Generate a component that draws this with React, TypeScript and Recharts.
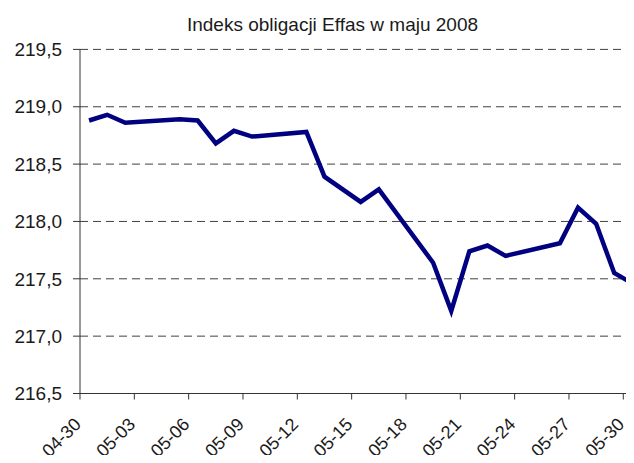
import { CartesianGrid, Line, LineChart, XAxis, YAxis } from "recharts";

// notowania indeksu (dni robocze)
const dates = ["04-30", "05-01", "05-02", "05-05", "05-06", "05-07", "05-08", "05-09", "05-12", "05-13", "05-15",
	"05-16", "05-19", "05-20", "05-21", "05-22", "05-23", "05-26", "05-27", "05-28", "05-29", "05-30"];
const values = [218.88, 218.93, 218.86, 218.89, 218.88, 218.68, 218.79, 218.74, 218.78, 218.39, 218.17,
	218.28, 217.64, 217.22, 217.74, 217.79, 217.70, 217.81, 218.12, 217.98, 217.55, 217.46];
const xTicks = [0, 3, 6, 9, 12, 15, 18, 21, 24, 27, 30];
const yTicks = [216.5, 217.0, 217.5, 218.0, 218.5, 219.0, 219.5];
const title = "Indeks obligacji Effas w maju 2008";

// dzień liczony od 04-30, punkt w środku dnia
const dayIndex = (d: string) => {
	const [m, day] = d.split("-").map(Number);
	return m === 4 ? day - 30 : day;
};

const data = dates.map((d, i) => ({ x: dayIndex(d) + 0.5, value: values[i] }));

const fmtX = (t: number) => (t === 0 ? "04-30" : "05-" + String(t).padStart(2, "0"));
const fmtY = (v: number) => v.toFixed(1).replace(".", ",");

const font = "'Liberation Sans', Arial, sans-serif";

const XTick = (props: any) => {
	const { x, y, payload } = props;
	return (
		<g transform={`translate(${x},${y})`}>
			<text x={2} y={24} transform="rotate(-45, 2, 24)" textAnchor="end" fontSize={18} fill="#1a1a1a" fontFamily={font}>
				{fmtX(payload.value)}
			</text>
		</g>
	);
};

const App = () => {
	return (
		<div style={{ margin: -8, width: 634, height: 463, overflow: "hidden", position: "relative", background: "#fff" }}>
			<LineChart
				width={660}
				height={463}
				data={data}
				margin={{ top: 49.4, right: 18.6, left: 0, bottom: 0 }}
			>
				<CartesianGrid horizontal vertical={false} stroke="#404040" strokeDasharray="8 5" />
				<XAxis
					dataKey="x"
					type="number"
					domain={[0, 31]}
					ticks={xTicks}
					interval={0}
					height={69.5}
					tickSize={6}
					tickMargin={2}
					stroke="#333"
					tick={<XTick />}
				/>
				<YAxis
					type="number"
					domain={[216.5, 219.5]}
					ticks={yTicks}
					interval={0}
					width={80}
					tickSize={7}
					tickMargin={11}
					stroke="#333"
					tickFormatter={fmtY}
					tick={{ fontSize: 19, fill: "#1a1a1a", fontFamily: font }}
				/>
				<Line
					type="linear"
					dataKey="value"
					stroke="#000080"
					strokeWidth={4.5}
					dot={false}
					isAnimationActive={false}
				/>
			</LineChart>
			<svg width={634} height={45} style={{ position: "absolute", left: 0, top: 0, pointerEvents: "none" }}>
				<text x={332.5} y={31} textAnchor="middle" fontSize={19} fill="#1a1a1a" fontFamily={font}>
					{title}
				</text>
			</svg>
		</div>
	);
};

export default App;
